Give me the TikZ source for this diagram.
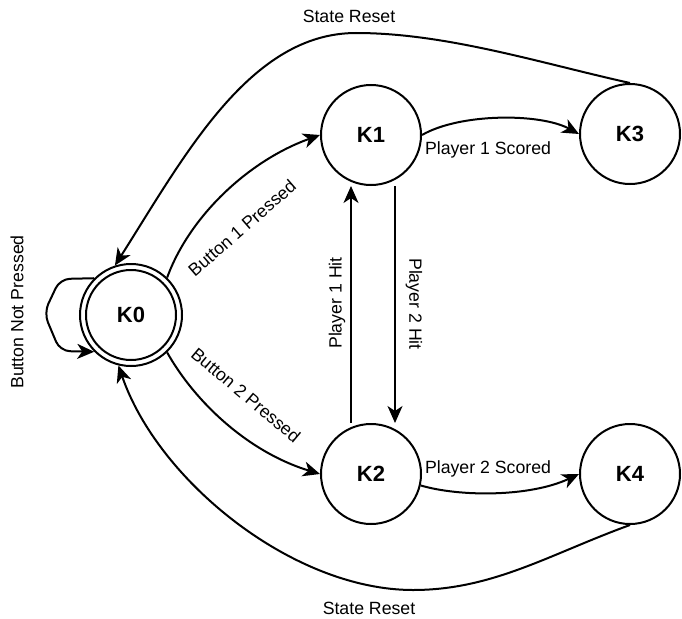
\documentclass[tikz,border=0pt]{standalone}
\usepackage{fontspec}
\setmainfont{Liberation Sans}
\usetikzlibrary{arrows.meta}
\begin{document}
\begin{tikzpicture}[x=1pt,y=-1pt,
  state/.style={circle,draw,line width=2pt,minimum size=100pt,inner sep=0pt,font=\fontsize{22}{24}\selectfont\bfseries},
  edge/.style={line width=2pt,-{Stealth[length=17pt,width=15pt,inset=5pt]}},
  lbl/.style={font=\fontsize{17.7}{20}\selectfont,inner sep=0pt}]
\useasboundingbox (0,0) rectangle (682,618);
\node[state,minimum size=102pt] (k0) at (131,315) {K0};
\node[circle,draw,line width=2pt,minimum size=90pt] (k0in) at (k0.center) {};
\node[state] (k1) at (371,135) {K1};
\node[state] (k2) at (371,474) {K2};
\node[state] (k3) at (630,134) {K3};
\node[state] (k4) at (630,474) {K4};
% self loop
\draw[edge,rounded corners=10pt] (k0.135) -- (60,279) -- (44,313) -- (60,351) -- (k0.225);
\node[lbl,rotate=90] (lloop) at (17,312) {Button Not Pressed};
% K0 -> K1
\draw[edge] (k0.46) .. controls (190,215) and (250,160) .. (k1.west);
\node[lbl,rotate=41] (l01) at (242,228) {Button 1 Pressed};
% K0 -> K2
\draw[edge] (k0.-46) .. controls (195,402) and (248,452) .. (k2.west);
\node[lbl,rotate=-40] (l02) at (246,395) {Button 2 Pressed};
% K1 <-> K2
\draw[edge] ([xshift=-20pt]k2.north) -- ([xshift=-20pt]k1.south);
\node[lbl,rotate=90] (l21) at (337,303) {Player 1 Hit};
\draw[edge] ([xshift=24pt]k1.south) -- ([xshift=24pt]k2.north);
\node[lbl,rotate=-90] (l12) at (414,304) {Player 2 Hit};
% K1 -> K3
\draw[edge] (k1.east) .. controls (460,113) and (540,113) .. (k3.west);
\node[lbl] (l13) at (488,150) {Player 1 Scored};
% K2 -> K4
\draw[edge] (k2.-13) .. controls (460,497) and (530,497) .. (k4.west);
\node[lbl] (l24) at (488,469) {Player 2 Scored};
% K3 -> K0
\draw[edge] (k3.north) .. controls (540,63) and (446,33) .. (356,33)
  .. controls (250,33) and (185,155) .. (k0.108);
\node[lbl] (lr1) at (349,16) {State Reset};
% K4 -> K0
\draw[edge] (k4.south) .. controls (550,554) and (493,590) .. (413,590)
  .. controls (293,590) and (158,481) .. (k0.-104);
\node[lbl] (lr2) at (369,608) {State Reset};
\end{tikzpicture}
\end{document}
